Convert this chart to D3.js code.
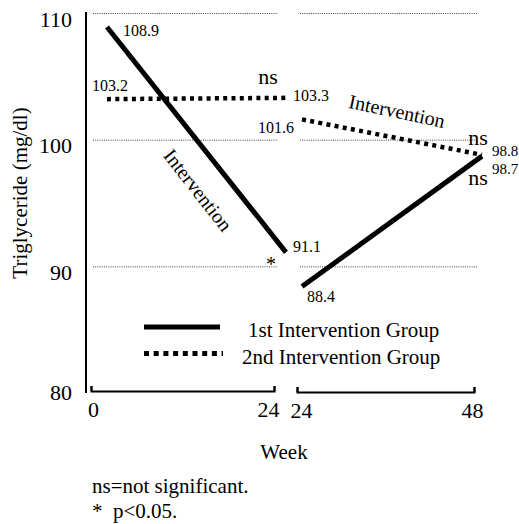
<!DOCTYPE html>
<html>
<head>
<meta charset="utf-8">
<script src="https://cdn.jsdelivr.net/npm/d3@7"></script>
<style>
  body { margin: 0; background: #fff; }
  svg { display: block; font-family: "Liberation Serif", "Times New Roman", "DejaVu Serif", serif; }
</style>
</head>
<body>
<div id="chart"></div>
<script>
// --- data ---
const weeksFirst = [0, 24];
const weeksSecond = [24, 48];
const group1First = [108.9, 91.1];
const group2First = [103.2, 103.3];
const group1Second = [88.4, 98.7];
const group2Second = [101.6, 98.8];
const yTicks = [80, 90, 100, 110];
const gridValues = [90, 100, 110];

const width = 519, height = 524;

const svg = d3.select("#chart").append("svg")
  .attr("width", width)
  .attr("height", height);

// scales
const y = d3.scaleLinear().domain([80, 110]).range([393, 13]);
// data position inside each panel
const xLeft = d3.scaleLinear().domain([0, 24]).range([107, 286]);
const xRight = d3.scaleLinear().domain([24, 48]).range([302, 482]);
// axis brackets
const axLeft = d3.scaleLinear().domain([0, 24]).range([91, 274]);
const axRight = d3.scaleLinear().domain([24, 48]).range([297, 474]);

// dotted grid lines, one set per panel
const grid = svg.append("g")
  .attr("stroke", "#444")
  .attr("stroke-width", 1)
  .attr("stroke-dasharray", "1,1.2");
grid.selectAll("line.l").data(gridValues).join("line")
  .attr("class", "l")
  .attr("x1", 93).attr("x2", 278)
  .attr("y1", d => y(d) + 0.5).attr("y2", d => y(d) + 0.5);
grid.selectAll("line.r").data(gridValues).join("line")
  .attr("class", "r")
  .attr("x1", 300).attr("x2", 478)
  .attr("y1", d => y(d) + 0.5).attr("y2", d => y(d) + 0.5);

// y axis
const yAxis = svg.append("g")
  .attr("transform", "translate(86,0)")
  .call(d3.axisLeft(y).tickValues(yTicks).tickSize(0).tickPadding(14).tickFormat(d3.format("d")));
yAxis.select(".domain").remove();
yAxis.append("line")
  .attr("x1", 0).attr("x2", 0)
  .attr("y1", 12).attr("y2", 393)
  .attr("stroke", "#000").attr("stroke-width", 2);
yAxis.selectAll("text")
  .attr("font-family", "Liberation Serif")
  .attr("font-size", 22)
  .attr("fill", "#000")
  .attr("dy", d => d === 80 ? "0.28em" : "0.6em");

// x axis brackets
function bracket(scale, ticks, yPos) {
  const g = svg.append("g")
    .attr("transform", `translate(0,${yPos})`)
    .call(d3.axisBottom(scale).tickValues(ticks).tickSize(-5).tickSizeOuter(-5).tickPadding(0));
  g.select(".domain").attr("stroke", "#000").attr("stroke-width", 2);
  g.selectAll(".tick line").attr("stroke", "#000").attr("stroke-width", 2);
  g.selectAll(".tick text")
    .attr("font-family", "Liberation Serif")
    .attr("font-size", 22)
    .attr("fill", "#000")
    .attr("dy", null)
    .attr("y", 26);
  return g;
}
const bl = bracket(axLeft, weeksFirst, 391);
const br = bracket(axRight, weeksSecond, 392);
bl.selectAll(".tick text").attr("dx", (d, i) => i === 0 ? 2 : -6);
br.selectAll(".tick text").attr("dx", (d, i) => i === 0 ? 4 : -2);

// lines
const lineL = d3.line().x(d => xLeft(d[0])).y(d => y(d[1]));
const lineR = d3.line().x(d => xRight(d[0])).y(d => y(d[1]));

function drawSeries(lineGen, weeks, vals, dashed) {
  svg.append("path")
    .attr("d", lineGen(d3.zip(weeks, vals)))
    .attr("fill", "none")
    .attr("stroke", "#000")
    .attr("stroke-width", dashed ? 4.5 : 5)
    .attr("stroke-dasharray", dashed ? "4,4.3" : null);
}
drawSeries(lineL, weeksFirst, group2First, true);
drawSeries(lineL, weeksFirst, group1First, false);
drawSeries(lineR, weeksSecond, group2Second, true);
drawSeries(lineR, weeksSecond, group1Second, false);

// value labels
const labels = svg.append("g").attr("fill", "#000").attr("font-size", 16);
function valueLabel(x, yy, text, anchor, size) {
  labels.append("text")
    .attr("x", x).attr("y", yy)
    .attr("text-anchor", anchor || "start")
    .attr("font-size", size || null)
    .text(text);
}
valueLabel(xLeft(0) + 16, y(group1First[0]) + 9, group1First[0].toFixed(1));
valueLabel(xLeft(0) - 15, y(group2First[0]) - 8, group2First[0].toFixed(1));
valueLabel(xLeft(24) + 7, y(group2First[1]) + 3, group2First[1].toFixed(1));
valueLabel(xLeft(24) + 7, y(group1First[1]), group1First[1].toFixed(1));
valueLabel(xRight(24) - 8, y(group2Second[0]) + 14, group2Second[0].toFixed(1), "end");
valueLabel(xRight(24) + 5, y(group1Second[0]) + 15, group1Second[0].toFixed(1));
valueLabel(xRight(48) + 10, y(group2Second[1]) + 1.5, group2Second[1].toFixed(1), "start", 15);
valueLabel(xRight(48) + 10, y(group1Second[1]) + 18, group1Second[1].toFixed(1), "start", 15);

// significance marks
const sig = svg.append("g").attr("fill", "#000").attr("font-size", 22);
sig.append("text").attr("x", xLeft(24) - 18).attr("y", y(group2First[1]) - 14)
  .attr("text-anchor", "middle").text("ns");
sig.append("text").attr("x", xRight(48) - 4).attr("y", y(group2Second[1]) - 10)
  .attr("text-anchor", "middle").text("ns");
sig.append("text").attr("x", xRight(48) - 4).attr("y", y(group1Second[1]) + 29)
  .attr("text-anchor", "middle").text("ns");
sig.append("text").attr("x", xLeft(24) - 15).attr("y", y(group1First[1]) + 19)
  .attr("text-anchor", "middle").attr("font-size", 20).text("*");

// rotated "Intervention" labels
svg.append("text")
  .attr("transform", "translate(198,190) rotate(52)")
  .attr("text-anchor", "middle")
  .attr("dominant-baseline", "central")
  .attr("font-size", 20)
  .text("Intervention");
svg.append("text")
  .attr("transform", "translate(397,111) rotate(12)")
  .attr("text-anchor", "middle")
  .attr("dominant-baseline", "central")
  .attr("font-size", 20)
  .text("Intervention");

// legend
const legendItems = [
  { label: "1st Intervention Group", dashed: false },
  { label: "2nd Intervention Group", dashed: true }
];
const legend = svg.append("g");
legendItems.forEach((item, i) => {
  const yy = 327 + i * 26.5;
  legend.append("line")
    .attr("x1", 144).attr("x2", item.dashed ? 223 : 220)
    .attr("y1", yy).attr("y2", yy)
    .attr("stroke", "#000")
    .attr("stroke-width", 5)
    .attr("stroke-dasharray", item.dashed ? "5,4.7" : null);
  legend.append("text")
    .attr("x", item.dashed ? 242 : 248)
    .attr("y", yy + 10)
    .attr("font-size", 21)
    .text(item.label);
});

// axis titles
svg.append("text")
  .attr("transform", "translate(27,193) rotate(-90)")
  .attr("text-anchor", "middle")
  .attr("font-size", 21)
  .text("Triglyceride (mg/dl)");
svg.append("text")
  .attr("x", 284).attr("y", 459)
  .attr("text-anchor", "middle")
  .attr("font-size", 21)
  .text("Week");

// footnotes
svg.append("text")
  .attr("x", 92).attr("y", 493)
  .attr("font-size", 21)
  .text("ns=not significant.");
svg.append("text")
  .attr("x", 92).attr("y", 518)
  .attr("font-size", 21)
  .attr("xml:space", "preserve")
  .style("white-space", "pre")
  .text("*  p<0.05.");
</script>
</body>
</html>
